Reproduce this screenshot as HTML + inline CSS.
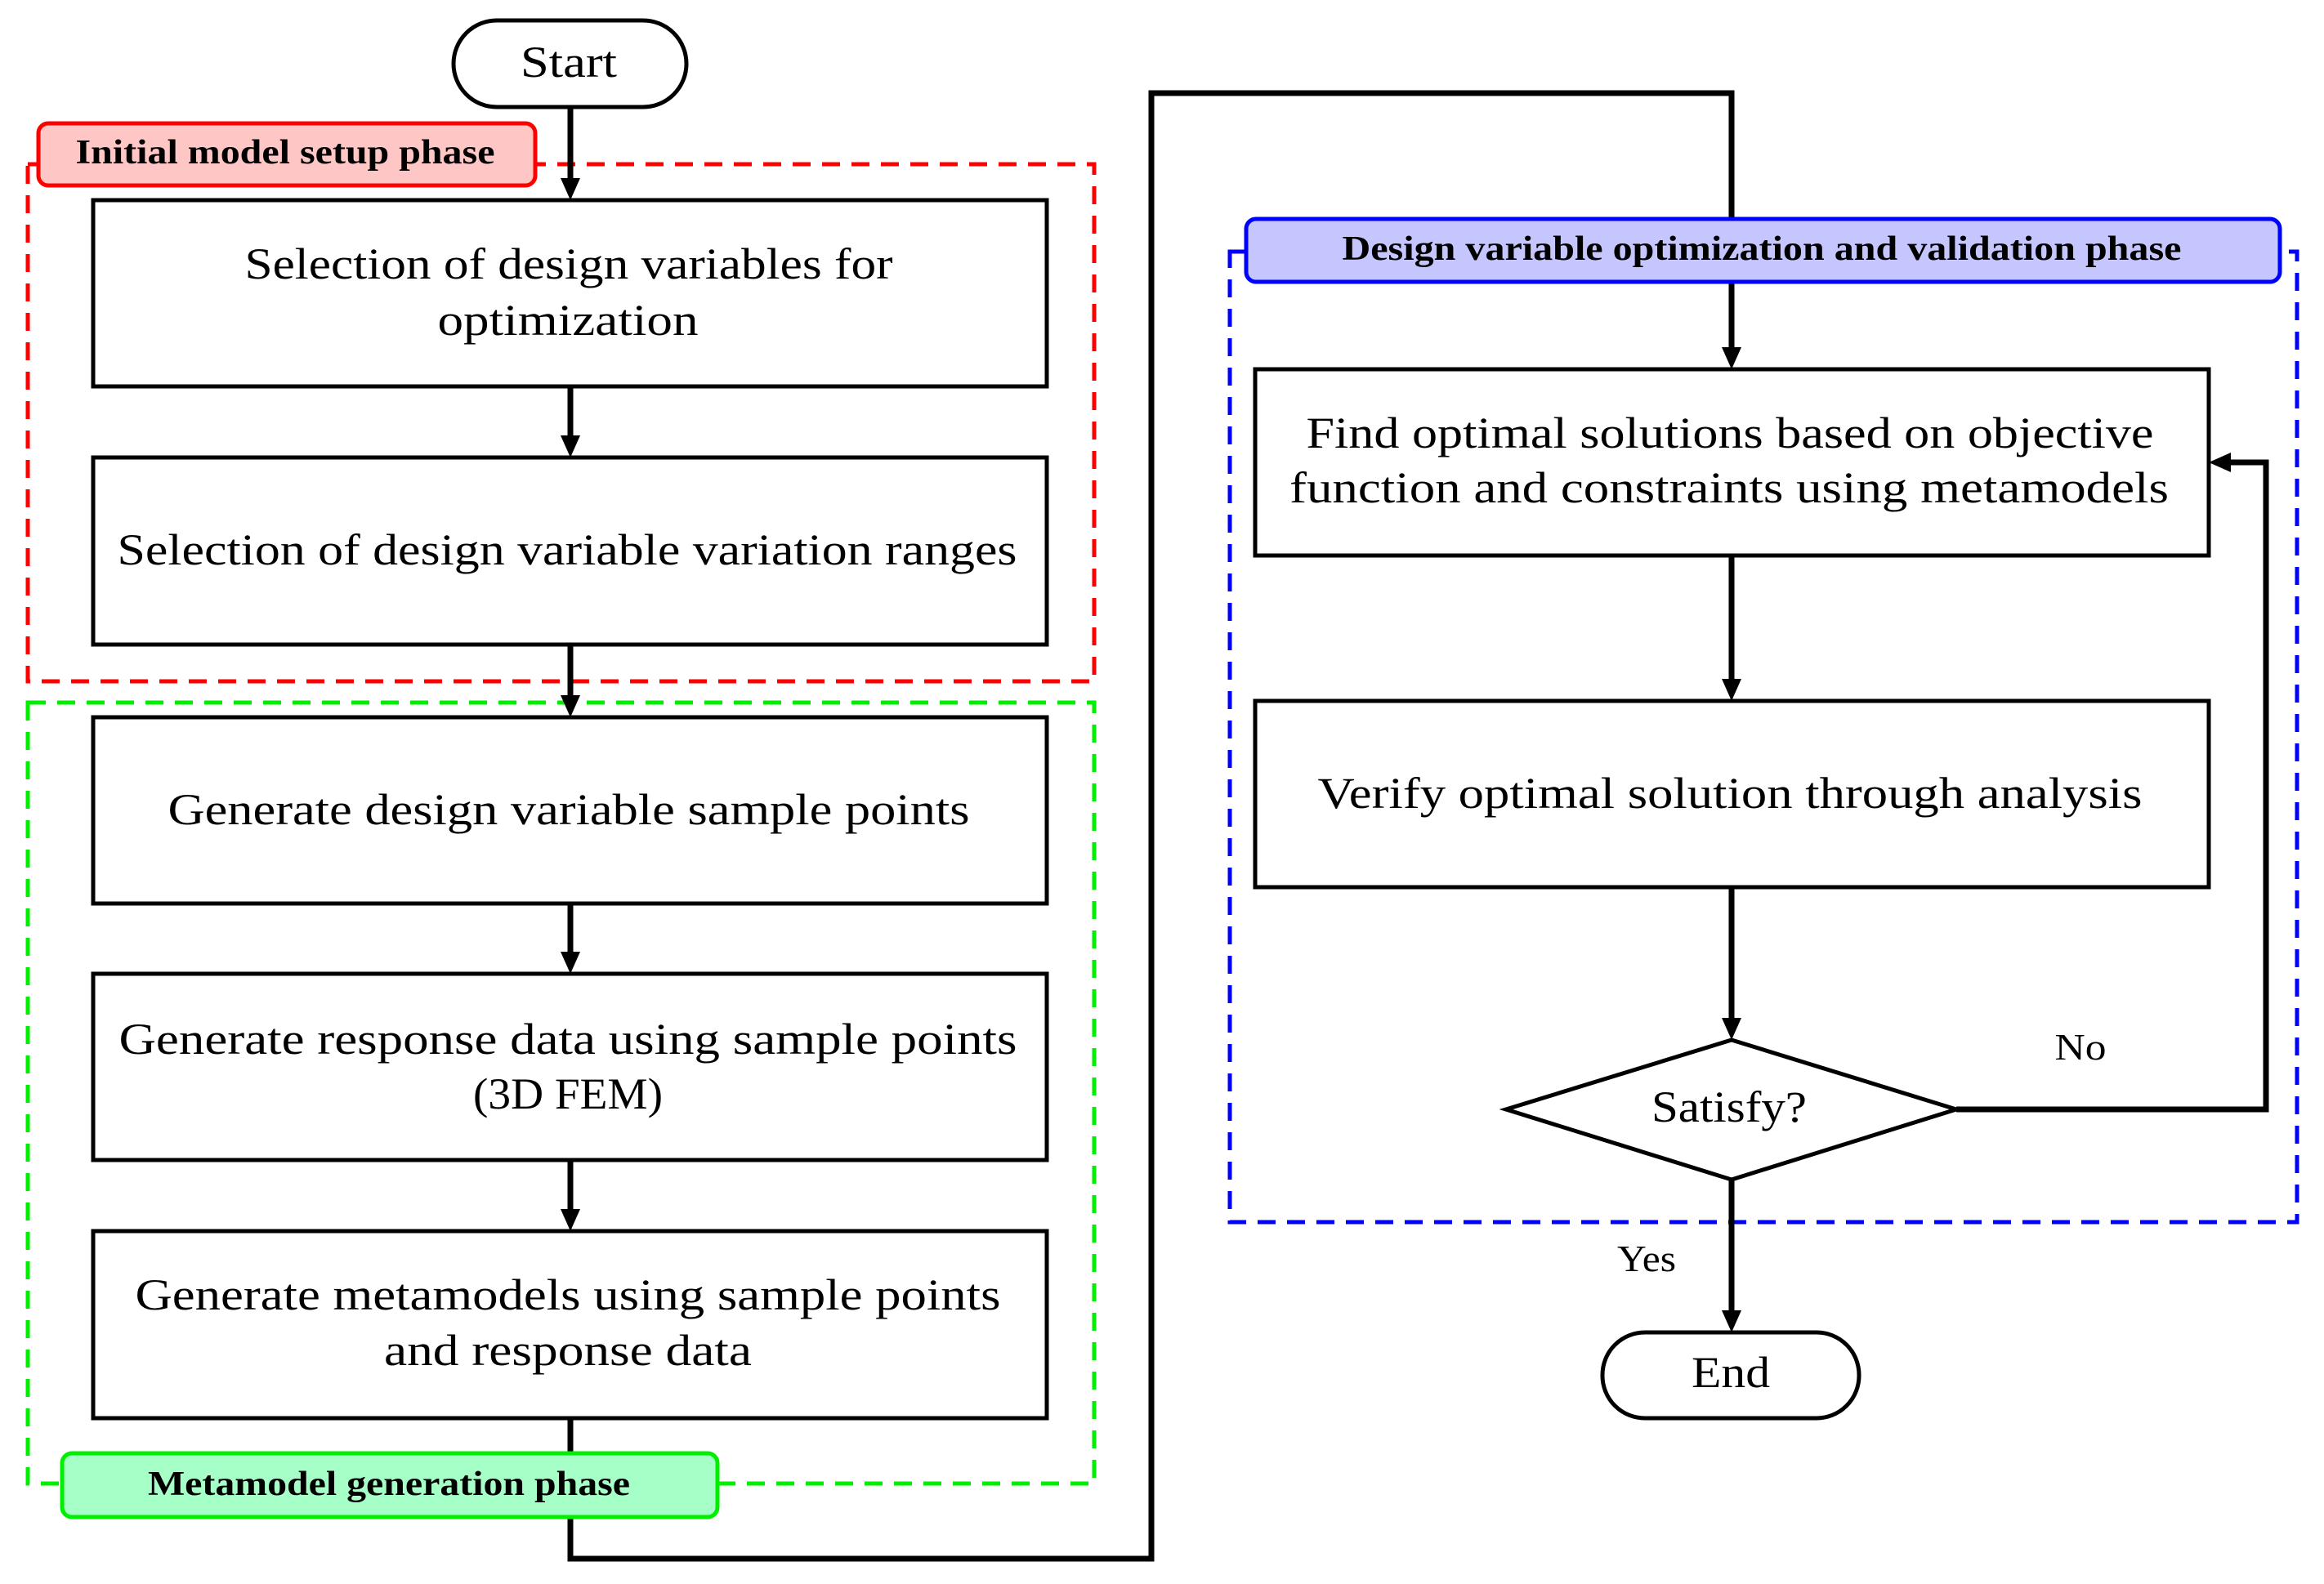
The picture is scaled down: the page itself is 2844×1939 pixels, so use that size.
<!DOCTYPE html>
<html><head><meta charset="utf-8"><style>html,body{margin:0;padding:0;background:#fff}svg{display:block}</style></head>
<body>
<svg width="2844" height="1939" viewBox="0 0 2844 1939" xmlns="http://www.w3.org/2000/svg" font-family="'Liberation Serif', serif">
<defs>
<marker id="ar" markerWidth="10" markerHeight="10" refX="9" refY="5" orient="auto" markerUnits="userSpaceOnUse" viewBox="0 0 10 10"><path d="M0,0 L10,5 L0,10 z" fill="#000"/></marker>
</defs>
<rect width="2844" height="1939" fill="#fff"/>
<!-- dashed phase frames -->
<rect x="34" y="201" width="1305" height="633" fill="none" stroke="#ff0000" stroke-width="5" stroke-dasharray="22,14"/>
<rect x="34" y="860" width="1305" height="956" fill="none" stroke="#00ee00" stroke-width="5" stroke-dasharray="22,14"/>
<rect x="1505" y="308" width="1306" height="1188" fill="none" stroke="#0000ff" stroke-width="5" stroke-dasharray="22,14"/>

<!-- connectors -->
<g stroke="#000" stroke-width="7" fill="none">
<line x1="698" y1="131" x2="698" y2="225"/>
<line x1="698" y1="473" x2="698" y2="540"/>
<line x1="698" y1="789" x2="698" y2="858"/>
<line x1="698" y1="1106" x2="698" y2="1172"/>
<line x1="698" y1="1420" x2="698" y2="1487"/>
<polyline points="698,1736 698,1908 1409,1908 1409,114 2119,114 2119,432"/>
<line x1="2119" y1="680" x2="2119" y2="838"/>
<line x1="2119" y1="1086" x2="2119" y2="1253"/>
<line x1="2119" y1="1444" x2="2119" y2="1611"/>
<polyline points="2394,1358 2773,1358 2773,566 2723,566"/>
</g>
<g fill="#000">
<path d="M686,218 L710,218 L698,245 z"/>
<path d="M686,533 L710,533 L698,560 z"/>
<path d="M686,851 L710,851 L698,878 z"/>
<path d="M686,1165 L710,1165 L698,1192 z"/>
<path d="M686,1480 L710,1480 L698,1507 z"/>
<path d="M2107,425 L2131,425 L2119,452 z"/>
<path d="M2107,831 L2131,831 L2119,858 z"/>
<path d="M2107,1246 L2131,1246 L2119,1273 z"/>
<path d="M2107,1604 L2131,1604 L2119,1631 z"/>
<path d="M2730,554 L2730,578 L2703,566 z"/>
</g>

<!-- tags -->
<rect x="47" y="151" width="608" height="76" rx="12" fill="#ffc6c6" stroke="#ff0000" stroke-width="5"/>
<text x="349" y="200" font-size="42" font-weight="bold" text-anchor="middle" textLength="513" lengthAdjust="spacingAndGlyphs">Initial model setup phase</text>
<rect x="76" y="1779" width="802" height="78" rx="12" fill="#a6ffc6" stroke="#00ee00" stroke-width="5"/>
<text x="476" y="1830" font-size="42" font-weight="bold" text-anchor="middle" textLength="590" lengthAdjust="spacingAndGlyphs">Metamodel generation phase</text>
<rect x="1525" y="268" width="1265" height="77" rx="12" fill="#c6c6ff" stroke="#0000ff" stroke-width="5"/>
<text x="2156" y="318" font-size="42" font-weight="bold" text-anchor="middle" textLength="1027" lengthAdjust="spacingAndGlyphs">Design variable optimization and validation phase</text>

<!-- terminals -->
<rect x="555" y="25" width="285" height="106" rx="53" fill="#fff" stroke="#000" stroke-width="5"/>
<text x="696" y="94" font-size="54" text-anchor="middle" textLength="118" lengthAdjust="spacingAndGlyphs">Start</text>
<rect x="1961" y="1631" width="314" height="105" rx="52" fill="#fff" stroke="#000" stroke-width="5"/>
<text x="2118" y="1698" font-size="54" text-anchor="middle" textLength="96" lengthAdjust="spacingAndGlyphs">End</text>

<!-- boxes -->
<g fill="#fff" stroke="#000" stroke-width="5">
<rect x="114" y="245" width="1167" height="228"/>
<rect x="114" y="560" width="1167" height="229"/>
<rect x="114" y="878" width="1167" height="228"/>
<rect x="114" y="1192" width="1167" height="228"/>
<rect x="114" y="1507" width="1167" height="229"/>
<rect x="1536" y="452" width="1167" height="228"/>
<rect x="1536" y="858" width="1167" height="228"/>
<polygon points="2119,1273 2394,1358 2119,1444 1843,1358"/>
</g>
<g font-size="54" text-anchor="middle" lengthAdjust="spacingAndGlyphs">
<text x="696" y="341" textLength="793" lengthAdjust="spacingAndGlyphs">Selection of design variables for</text>
<text x="695" y="410" textLength="319" lengthAdjust="spacingAndGlyphs">optimization</text>
<text x="694" y="691" textLength="1101" lengthAdjust="spacingAndGlyphs">Selection of design variable variation ranges</text>
<text x="696" y="1009" textLength="981" lengthAdjust="spacingAndGlyphs">Generate design variable sample points</text>
<text x="695" y="1290" textLength="1099" lengthAdjust="spacingAndGlyphs">Generate response data using sample points</text>
<text x="695" y="1357" textLength="232" lengthAdjust="spacingAndGlyphs">(3D FEM)</text>
<text x="695" y="1603" textLength="1059" lengthAdjust="spacingAndGlyphs">Generate metamodels using sample points</text>
<text x="695" y="1671" textLength="450" lengthAdjust="spacingAndGlyphs">and response data</text>
<text x="2117" y="548" textLength="1037" lengthAdjust="spacingAndGlyphs">Find optimal solutions based on objective</text>
<text x="2116" y="615" textLength="1076" lengthAdjust="spacingAndGlyphs">function and constraints using metamodels</text>
<text x="2117" y="989" textLength="1009" lengthAdjust="spacingAndGlyphs">Verify optimal solution through analysis</text>
<text x="2116" y="1373" textLength="190" lengthAdjust="spacingAndGlyphs">Satisfy?</text>
<text x="2546" y="1297" font-size="46" textLength="63" lengthAdjust="spacingAndGlyphs">No</text>
<text x="2015" y="1556" font-size="46" textLength="72" lengthAdjust="spacingAndGlyphs">Yes</text>
</g>
</svg>
</body></html>
